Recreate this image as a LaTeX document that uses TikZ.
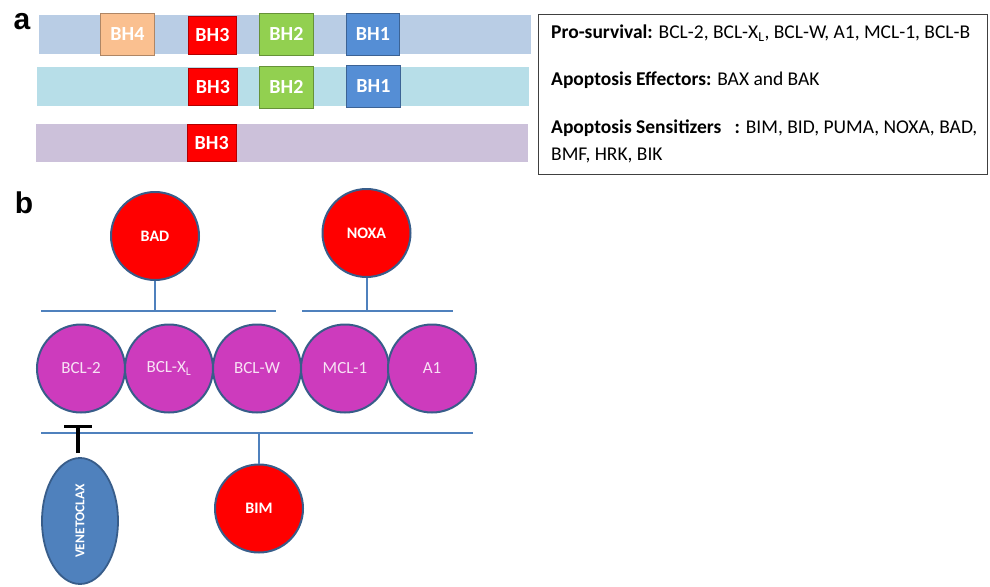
\documentclass[tikz,border=0pt]{standalone}
\usepackage{fontspec}
\setmainfont{Carlito}
\setsansfont{Liberation Sans}
\usetikzlibrary{shapes.geometric,arrows.meta}
\definecolor{barA}{HTML}{B9CDE5}
\definecolor{barB}{HTML}{B7DEE8}
\definecolor{barC}{HTML}{CCC1DA}
\definecolor{bhfour}{HTML}{FAC090}
\definecolor{bhthree}{HTML}{FF0000}
\definecolor{bhtwo}{HTML}{92D050}
\definecolor{bhone}{HTML}{558ED5}
\definecolor{edgec}{HTML}{385D8A}
\definecolor{linec}{HTML}{4F81BD}
\definecolor{pinkc}{HTML}{CD3BBD}
\definecolor{boxc}{HTML}{404040}
\begin{document}
\begin{tikzpicture}[x=1pt,y=-1pt,
  bar/.style={rectangle, inner sep=0pt, anchor=north west},
  bh/.style={rectangle, fill=#1, draw=#1!70!black, line width=0.8pt, text=white,
    font=\bfseries\fontsize{20}{20}\selectfont, inner sep=0pt, anchor=north west},
  panel/.style={font=\sffamily\bfseries\fontsize{30}{30}\selectfont, inner sep=0pt},
  info/.style={anchor=west, inner sep=0pt, font=\fontsize{19.5}{19.5}\selectfont},
  redc/.style={circle, fill=bhthree, draw=edgec, line width=2pt, minimum size=88pt,
    inner sep=0pt, text=white, font=\bfseries\fontsize{16}{16}\selectfont},
  pinkcirc/.style={circle, fill=pinkc, draw=edgec, line width=2pt, minimum size=88pt,
    inner sep=0pt, text=white!85!pinkc, font=\fontsize{17}{17}\selectfont},
  link/.style={draw=linec, line width=2pt},
  tee/.style={draw=black, line width=3.2pt, -{Bar[width=28pt,line width=3.2pt]}}
]
\useasboundingbox (0,0) rectangle (990,586);

% panel labels
\node[panel] (la) at (22,22) {a};
\node[panel] (lb) at (24,203) {b};

% panel a: domain bars
\node[bar, fill=barA, minimum width=492pt, minimum height=39.5pt] (bar1) at (39,14.5) {};
\node[bh=bhfour, minimum width=54pt, minimum height=42pt] (b1h4) at (100,13) {BH4};
\node[bh=bhthree, minimum width=48pt, minimum height=38pt] (b1h3) at (188,16) {BH3};
\node[bh=bhtwo, minimum width=54pt, minimum height=42pt] (b1h2) at (259,13) {BH2};
\node[bh=bhone, minimum width=53pt, minimum height=42pt] (b1h1) at (346,13) {BH1};

\node[bar, fill=barB, minimum width=492pt, minimum height=39.5pt] (bar2) at (37,66.5) {};
\node[bh=bhthree, minimum width=49pt, minimum height=37pt] (b2h3) at (188,68) {BH3};
\node[bh=bhtwo, minimum width=54pt, minimum height=42pt] (b2h2) at (259,66) {BH2};
\node[bh=bhone, minimum width=54pt, minimum height=42pt] (b2h1) at (346,65) {BH1};

\node[bar, fill=barC, minimum width=492pt, minimum height=38.5pt] (bar3) at (35.5,123.5) {};
\node[bh=bhthree, minimum width=48.5pt, minimum height=37.5pt] (b3h3) at (187,123.5) {BH3};

% info box
\node[rectangle, draw=boxc, line width=0.9pt, minimum width=449pt, minimum height=160pt,
  anchor=north west, inner sep=0pt] (infobox) at (538,14) {};
\node[info] (t1) at (551,33) {\textbf{Pro-survival:} BCL-2, BCL-X\textsubscript{L}, BCL-W, A1, MCL-1, BCL-B};
\node[info] (t2) at (551,80) {\textbf{Apoptosis Effectors:} BAX and BAK};
\node[info] (t3) at (551,128) {\textbf{Apoptosis Sensitizers}\ \ \ \textbf{:} BIM, BID, PUMA, NOXA, BAD,};
\node[info] (t4) at (551,155) {BMF, HRK, BIK};

% panel b
\node[redc] (bad) at (155,236) {BAD};
\node[redc] (noxa) at (366.5,233) {NOXA};

\coordinate (l1a) at (41,311);
\coordinate (l1b) at (276,311);
\coordinate (l2a) at (302,311);
\coordinate (l2b) at (453,311);
\draw[link] (l1a) -- (l1b);
\draw[link] (l2a) -- (l2b);
\draw[link] (bad) -- (bad |- l1a);
\draw[link] (noxa) -- (noxa |- l2a);

\node[pinkcirc] (bcl2) at (81,368.5) {BCL-2};
\node[pinkcirc] (bclxl) at (169,368.5) {BCL-X\textsubscript{L}};
\node[pinkcirc] (bclw) at (257,368.5) {BCL-W};
\node[pinkcirc] (mcl1) at (345,368.5) {MCL-1};
\node[pinkcirc] (aone) at (432,368.5) {A1};

\coordinate (l3a) at (41,433);
\coordinate (l3b) at (473,433);
\draw[link] (l3a) -- (l3b);

\node[ellipse, rotate=90, fill=linec, draw=edgec, line width=1.8pt,
  minimum width=126pt, minimum height=76pt, inner sep=0pt, text=white,
  font=\bfseries\fontsize{13.5}{13.5}\selectfont] (ven) at (80,521) {VENETOCLAX};
\coordinate (tbar) at (78,425);
\draw[tee, shorten <=4pt] (ven.east -| tbar) -- (tbar);

\node[redc] (bim) at (259,508.5) {BIM};
\draw[link] (bim) -- (bim |- l3a);
\end{tikzpicture}
\end{document}
